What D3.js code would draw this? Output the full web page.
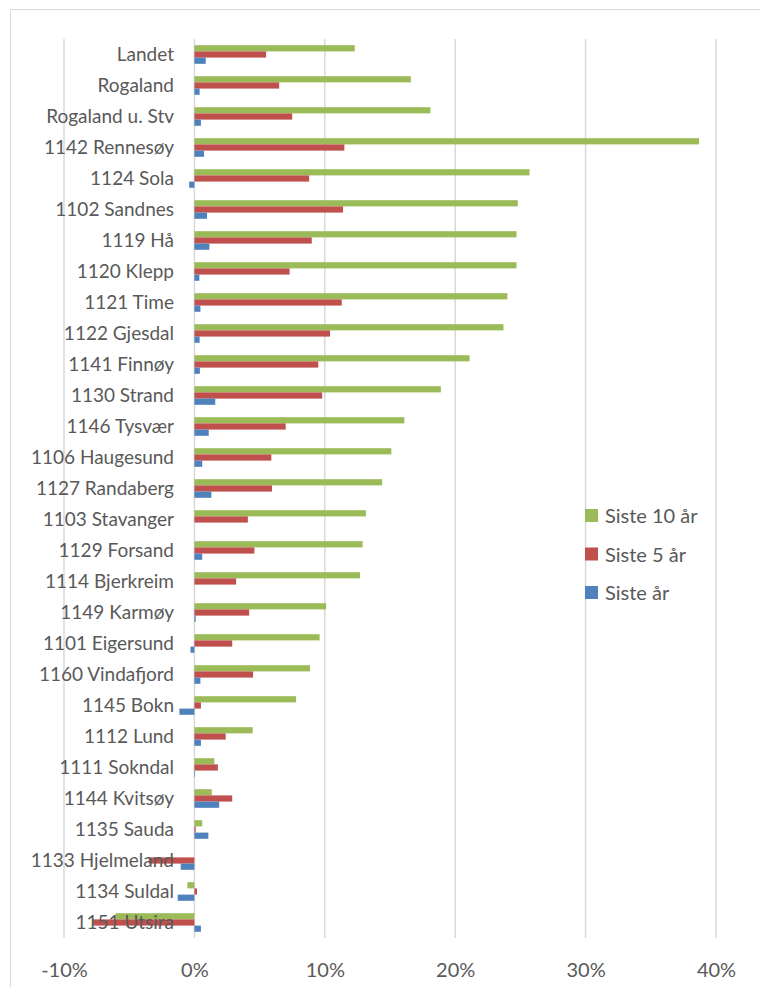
<!DOCTYPE html>
<html>
<head>
<meta charset="utf-8">
<script src="https://cdn.jsdelivr.net/npm/d3@7"></script>
<style>
  body { margin: 0; background: #fff; }
  svg text { font-family: Lato, "Open Sans", sans-serif; fill: #595959; }
</style>
</head>
<body>
<div id="chart"></div>
<script>
// kommuner, top to bottom
const categories = ["Landet", "Rogaland", "Rogaland u. Stv", "1142 Rennesøy", "1124 Sola",
    "1102 Sandnes", "1119 Hå", "1120 Klepp", "1121 Time", "1122 Gjesdal", "1141 Finnøy",
    "1130 Strand", "1146 Tysvær", "1106 Haugesund", "1127 Randaberg", "1103 Stavanger",
    "1129 Forsand", "1114 Bjerkreim", "1149 Karmøy", "1101 Eigersund", "1160 Vindafjord",
    "1145 Bokn", "1112 Lund", "1111 Sokndal", "1144 Kvitsøy", "1135 Sauda",
    "1133 Hjelmeland", "1134 Suldal", "1151 Utsira"];

// growth in percent
const siste10 = [12.3, 16.6, 18.1, 38.7, 25.7, 24.8, 24.7, 24.7, 24.0, 23.7, 21.1,
    18.9, 16.1, 15.1, 14.4, 13.15, 12.9, 12.7, 10.1, 9.6, 8.87, 7.8, 4.47, 1.53,
    1.33, 0.6, 0, -0.54, -6.05];
const siste5 = [5.5, 6.5, 7.5, 11.5, 8.8, 11.4, 9.0, 7.3, 11.3, 10.4, 9.5,
    9.8, 7.0, 5.9, 5.95, 4.1, 4.6, 3.2, 4.2, 2.9, 4.5, 0.5, 2.4, 1.8,
    2.9, 0.1, -3.5, 0.2, -7.76];
const sisteAr = [0.87, 0.4, 0.5, 0.74, -0.4, 0.97, 1.15, 0.38, 0.46, 0.4, 0.42,
    1.6, 1.1, 0.6, 1.3, 0, 0.6, 0, 0.1, -0.3, 0.46, -1.15, 0.5, 0.05,
    1.9, 1.07, -1.05, -1.28, 0.5];

const seriesNames = ["Siste 10 år", "Siste 5 år", "Siste år"];
const seriesData = [siste10, siste5, sisteAr];
const colors = ["#9bbb59", "#c0504d", "#4f81bd"];
const xTicks = [-10, 0, 10, 20, 30, 40];

const width = 760, height = 987;

let svg = d3.select("#chart").append("svg")
    .attr("width", width)
    .attr("height", height);

// chart frame
svg.append("rect")
    .attr("x", 10.5).attr("y", 9.5)
    .attr("width", width).attr("height", height)
    .attr("fill", "none")
    .attr("stroke", "#d9d9d9");

const x = d3.scaleLinear().domain([-10, 40]).range([64, 716]);

const y = d3.scaleBand()
    .domain(categories)
    .range([39, 938])
    .paddingInner(0.4)
    .paddingOuter(0.2);

const ySub = d3.scaleBand()
    .domain(d3.range(seriesNames.length))
    .range([0, y.bandwidth()]);

// gridlines
svg.append("g")
    .selectAll("line")
    .data(xTicks)
    .join("line")
    .attr("x1", d => x(d)).attr("x2", d => x(d))
    .attr("y1", 39).attr("y2", 938)
    .attr("stroke", "#d9d9d9")
    .attr("stroke-width", 1.5);

// bars
let rows = svg.append("g")
    .selectAll("g")
    .data(categories)
    .join("g")
    .attr("transform", d => "translate(0," + y(d) + ")");

rows.selectAll("rect")
    .data((d, i) => seriesData.map((s, k) => ({ k: k, v: s[i] })))
    .join("rect")
    .attr("x", d => x(Math.min(0, d.v)))
    .attr("width", d => Math.abs(x(d.v) - x(0)))
    .attr("y", d => ySub(d.k))
    .attr("height", ySub.bandwidth())
    .attr("fill", d => colors[d.k]);

// category labels
svg.append("g")
    .selectAll("text")
    .data(categories)
    .join("text")
    .attr("x", 174)
    .attr("y", d => y(d) + y.bandwidth() / 2)
    .attr("dy", "0.36em")
    .attr("text-anchor", "end")
    .style("font-size", "19px")
    .text(d => d);

// x axis labels
const xAxis = d3.axisBottom(x)
    .tickValues(xTicks)
    .tickFormat(d => d + "%")
    .tickSize(0)
    .tickPadding(0);

let axisG = svg.append("g")
    .attr("transform", "translate(0,977)")
    .call(xAxis);
axisG.select(".domain").remove();
axisG.selectAll("text")
    .attr("y", 0)
    .attr("dy", 0)
    .style("font-size", "20px")
    .style("font-family", "Lato, 'Open Sans', sans-serif")
    .attr("fill", "#595959");

// legend
let legend = svg.append("g")
    .selectAll("g")
    .data(seriesNames)
    .join("g")
    .attr("transform", (d, i) => "translate(585," + (516 + i * 38.5) + ")");

legend.append("rect")
    .attr("x", 0).attr("y", -7)
    .attr("width", 13).attr("height", 13)
    .attr("fill", (d, i) => colors[i]);

legend.append("text")
    .attr("x", 20)
    .attr("dy", "0.36em")
    .style("font-size", "20px")
    .text(d => d);
</script>
</body>
</html>
